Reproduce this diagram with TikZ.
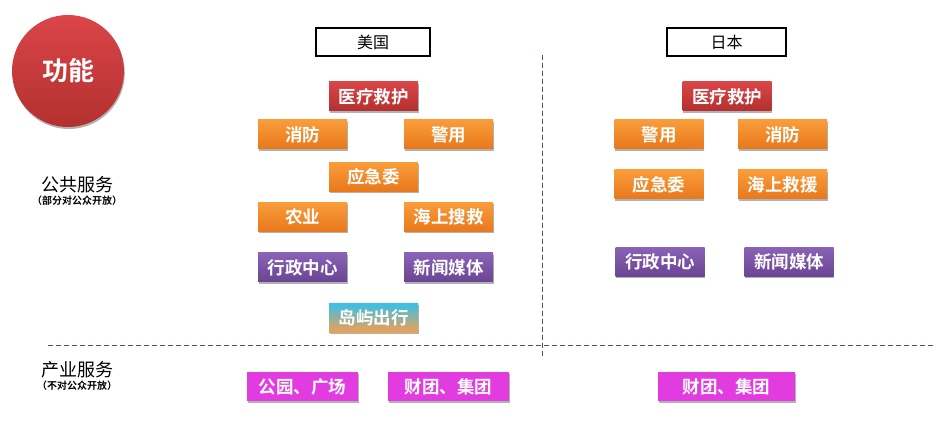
\documentclass[tikz,border=0pt]{standalone}
\usepackage{fontspec}
\newfontfamily\cjk[BoldFont={Noto Sans CJK SC Bold}]{Noto Sans CJK SC}
\usetikzlibrary{shadows}
\definecolor{redT}{HTML}{DA4548}
\definecolor{redB}{HTML}{B3302F}
\definecolor{orT}{HTML}{FA9C3A}
\definecolor{orB}{HTML}{E8781C}
\definecolor{puT}{HTML}{8A62B6}
\definecolor{puB}{HTML}{6A4592}
\definecolor{mag}{HTML}{E23CE0}
\definecolor{cyT}{HTML}{38C0E8}
\definecolor{cyB}{HTML}{F2A050}
\definecolor{sepcol}{HTML}{44546A}
\tikzset{
  bx/.style={minimum width=89bp, minimum height=29bp, inner sep=0pt,
    text=white, font=\cjk\bfseries\fontsize{17.5bp}{19bp}\selectfont,
    drop shadow={shadow xshift=0.6bp, shadow yshift=-1.6bp, opacity=0.3, fill=black}},
  redbox/.style={bx, top color=redT, bottom color=redB},
  orbox/.style={bx, top color=orT, bottom color=orB},
  pubox/.style={bx, top color=puT, bottom color=puB},
  cybox/.style={bx, top color=cyT, bottom color=cyB},
  mgbox/.style={bx, fill=mag, minimum height=29bp},
  country/.style={draw=black, line width=1.6bp, minimum height=28bp, inner sep=0pt,
    font=\cjk\fontsize{16bp}{18bp}\selectfont},
  side/.style={font=\cjk\fontsize{18bp}{20bp}\selectfont, inner sep=0pt},
  sub/.style={font=\cjk\bfseries\fontsize{10bp}{11bp}\selectfont, inner sep=0pt},
  sep/.style={draw=sepcol, dash pattern=on 5bp off 3bp, line width=1bp}
}
\begin{document}
\begin{tikzpicture}[x=1bp,y=-1bp]
\useasboundingbox (0,0) rectangle (952,436);
% circle
\node (fn) [circle, minimum size=112bp, inner sep=0pt, top color=redT, bottom color=redB,
  drop shadow={shadow xshift=0.8bp, shadow yshift=-2bp, opacity=0.3, fill=black},
  text=white, font=\cjk\bfseries\fontsize{26bp}{28bp}\selectfont] at (68,71) {功能};
% side labels
\node (gg) [side] at (77,185) {公共服务};
\node (ggs) [sub] at (77,201) {（部分对公众开放）};
\node (cy) [side] at (77,370) {产业服务};
\node (cys) [sub] at (77,386) {（不对公众开放）};
% countries
\node (us) [country, minimum width=114bp] at (373,42) {美国};
\node (jp) [country, minimum width=119bp] at (726.5,42) {日本};
% dashed separators
\coordinate (v1) at (542,55);
\coordinate (v2) at (542,356);
\coordinate (h1) at (48,346);
\coordinate (h2) at (935,346);
\draw[sep] (v1) -- (v2);
\draw[sep] (h1) -- (h2);
% USA
\node (u1) [redbox] at (373.5,96.5) {医疗救护};
\node (u2) [orbox] at (302.5,134.5) {消防};
\node (u3) [orbox] at (448.5,134.5) {警用};
\node (u4) [orbox] at (373.5,177) {应急委};
\node (u5) [orbox] at (302.5,217) {农业};
\node (u6) [orbox] at (448.5,217) {海上搜救};
\node (u7) [pubox] at (302.5,267.5) {行政中心};
\node (u8) [pubox] at (448.5,267.5) {新闻媒体};
\node (u9) [cybox] at (373.5,318) {岛屿出行};
% Japan
\node (j1) [redbox] at (727,96.5) {医疗救护};
\node (j2) [orbox] at (659,134.5) {警用};
\node (j3) [orbox] at (782.5,134.5) {消防};
\node (j4) [orbox] at (659,184.5) {应急委};
\node (j5) [orbox] at (782.5,184.5) {海上救援};
\node (j6) [pubox] at (660,262) {行政中心};
\node (j7) [pubox] at (789,262) {新闻媒体};
% industry
\node (i1) [mgbox, minimum width=111bp] at (302.5,386.5) {公园、广场};
\node (i2) [mgbox, minimum width=121bp] at (448.5,386.5) {财团、集团};
\node (i3) [mgbox, minimum width=137bp] at (726.5,386.5) {财团、集团};
\end{tikzpicture}
\end{document}
